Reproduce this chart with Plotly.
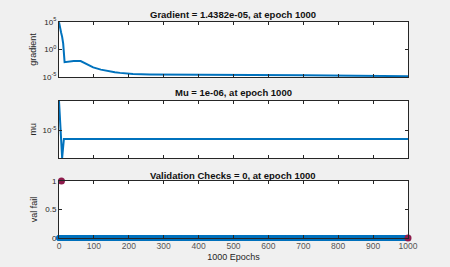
import plotly.graph_objects as go

# ---- data ----
grad_epochs = [0, 3, 6, 9, 12, 16, 25, 42, 62, 76, 98, 120, 137, 160, 175, 212, 260, 350, 500, 700, 850, 1000]
grad_vals = [9e4, 5e3, 1.2e3, 2e2, 12, 5e-3, 6e-3, 8e-3, 8e-3, 3.2e-3, 5.6e-4, 2.2e-4, 1.3e-4,
             7.5e-5, 5.6e-5, 3.5e-5, 3e-5, 2.6e-5, 2.4e-5, 2e-5, 1.7e-5, 1.4382e-5]
mu_epochs = [0, 9, 14, 1000]
mu_vals = [0.04, 5e-9, 1e-6, 1e-6]
val_epochs = list(range(0, 1001))
val_fail = [0] * 1001
best_epochs = [7, 1000]
best_vals = [1, 0]
x_ticks = [0, 100, 200, 300, 400, 500, 600, 700, 800, 900, 1000]
titles = ["Gradient = 1.4382e-05, at epoch 1000", "Mu = 1e-06, at epoch 1000",
          "Validation Checks = 0, at epoch 1000"]

BLUE = "#0072BD"
AX = "#262626"
FONT = "Arial, Liberation Sans, sans-serif"

fig = go.Figure()
fig.add_trace(go.Scatter(x=grad_epochs, y=grad_vals, mode="lines", line=dict(color=BLUE, width=2),
                         xaxis="x", yaxis="y", showlegend=False))
fig.add_trace(go.Scatter(x=mu_epochs, y=mu_vals, mode="lines", line=dict(color=BLUE, width=2),
                         xaxis="x2", yaxis="y2", showlegend=False))
fig.add_trace(go.Scatter(x=val_epochs, y=val_fail, mode="markers",
                         marker=dict(color=BLUE, size=6, line=dict(width=0)),
                         xaxis="x3", yaxis="y3", showlegend=False, cliponaxis=False))
fig.add_trace(go.Scatter(x=best_epochs, y=best_vals, mode="markers",
                         marker=dict(color="#8E1B4C", size=7), xaxis="x3", yaxis="y3",
                         showlegend=False, cliponaxis=False))

H = 267.0
def ydom(top, bot):
    return [(H - bot) / H, (H - top) / H]

xdom = [59 / 450, 408 / 450]
common_x = dict(domain=xdom, range=[0, 1000], tickvals=x_ticks, ticks="inside", ticklen=3,
                tickcolor=AX, showline=True, linecolor=AX, linewidth=1, mirror="ticks",
                showgrid=False, zeroline=False, automargin=False)
common_y = dict(ticks="inside", ticklen=3, tickcolor=AX, showline=True, linecolor=AX,
                linewidth=1, mirror="ticks", showgrid=False, zeroline=False, automargin=False,
                tickfont=dict(size=8, color=AX, family=FONT))

fig.update_layout(
    width=450, height=267, margin=dict(l=0, r=0, t=0, b=0),
    paper_bgcolor="#f0f0f0", plot_bgcolor="white",
    font=dict(family=FONT, color=AX),
    xaxis=dict(**common_x, anchor="y", showticklabels=False),
    yaxis=dict(**common_y, domain=ydom(22, 77), type="log", range=[-5, 5],
               tickvals=[1e-5, 1, 1e5], ticktext=["10<sup>-5</sup>", "10<sup>0</sup>", "10<sup>5</sup>"],
               title=dict(text="gradient", font=dict(size=9, color=AX), standoff=4)),
    xaxis2=dict(**common_x, anchor="y2", showticklabels=False),
    yaxis2=dict(**common_y, domain=ydom(100.7, 158), type="log", range=[-8.3, -1.4],
                tickvals=[1e-5], ticktext=["10<sup>-5</sup>"],
                title=dict(text="mu", font=dict(size=9, color=AX), standoff=4)),
    xaxis3=dict(**common_x, anchor="y3", showticklabels=True,
                tickfont=dict(size=8.5, color="#555555", family=FONT),
                title=dict(text="1000 Epochs", font=dict(size=9, color=AX), standoff=3)),
    yaxis3=dict(**common_y, domain=ydom(181, 238), range=[0, 1], tickvals=[0, 0.5, 1],
                ticktext=["0", "0.5", "1"],
                title=dict(text="val fail", font=dict(size=9, color=AX), standoff=6)),
)

for t, yy in zip(titles, [14, 93, 175]):
    fig.add_annotation(text="<b>" + t + "</b>", x=233.5 / 450, y=(H - yy) / H, xref="paper",
                       yref="paper", showarrow=False, font=dict(size=9.5, color="#111111", family=FONT),
                       xanchor="center", yanchor="middle")

fig.write_html("out.html", config={"displayModeBar": False},
               post_script="document.body.style.margin='0';document.body.style.background='#f0f0f0';")
